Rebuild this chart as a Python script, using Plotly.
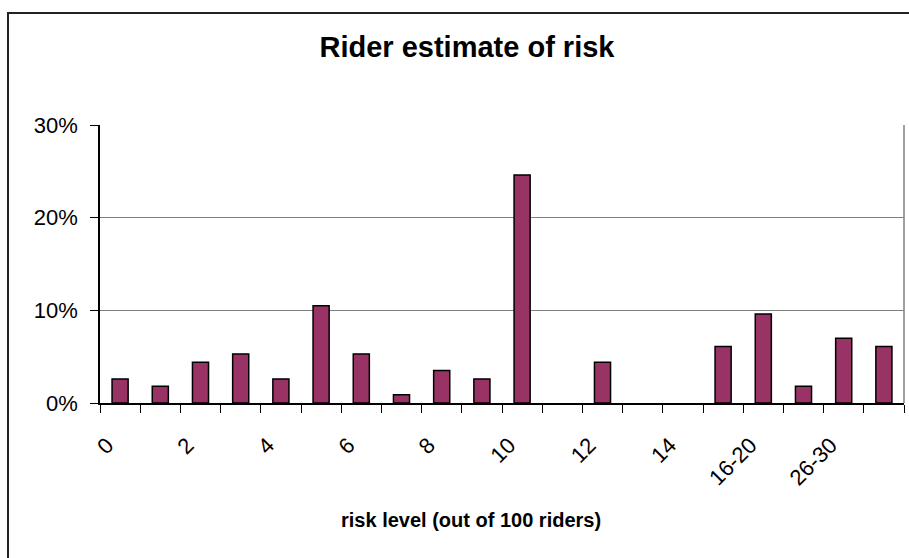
import plotly.graph_objects as go

# Share of riders choosing each risk level (out of 100 riders)
categories = ["0", "1", "2", "3", "4", "5", "6", "7", "8", "9", "10",
              "11", "12", "13", "14", "15", "16-20", "21-25", "26-30", "31+"]
shares = [0.026, 0.018, 0.044, 0.053, 0.026, 0.105, 0.053, 0.009, 0.035, 0.026,
          0.246, 0.0, 0.044, 0.0, 0.0, 0.061, 0.096, 0.018, 0.070, 0.061]
# only every other category gets a printed label
tick_text = [c if i % 2 == 0 else "" for i, c in enumerate(categories)]
y_ticks = [0, 0.1, 0.2, 0.3]

W, H = 909, 558
ML, MR, MT, MB = 100, 5, 125, 155
PW, PH = W - ML - MR, H - MT - MB

FONT = "Arial, Liberation Sans, sans-serif"

# empty categories get no outline so nothing shows on the baseline
outline_w = [1.5 if v > 0 else 0 for v in shares]

fig = go.Figure(go.Bar(
    x=categories, y=shares,
    marker=dict(color="#993366", line=dict(color="#000000", width=outline_w)),
))

fig.update_layout(
    width=W, height=H,
    margin=dict(l=ML, r=MR, t=MT, b=MB),
    paper_bgcolor="white", plot_bgcolor="white",
    bargap=0.6, showlegend=False,
    font=dict(family=FONT, color="black"),
    title=dict(text="<b>Rider estimate of risk</b>", font=dict(size=29, family=FONT),
               x=(467 - ML) / PW, xref="paper", xanchor="center",
               y=1 - 47 / H, yref="container", yanchor="middle"),
)

fig.update_xaxes(
    type="category", tickmode="array", tickvals=categories, ticktext=tick_text,
    tickson="boundaries", ticks="outside", ticklen=8, tickcolor="black", tickwidth=1,
    tickangle=-45, tickfont=dict(size=22, family=FONT),
    ticklabelstandoff=19, ticklabelshift=-13,
    showline=True, linecolor="black", linewidth=1.5,
    showgrid=False, range=[-0.5, len(categories) - 0.5],
)
fig.update_yaxes(
    range=[0, 0.3], tickvals=y_ticks, tickformat=".0%",
    ticks="outside", ticklen=8, tickcolor="black", tickwidth=1,
    tickfont=dict(size=22, family=FONT), ticklabelstandoff=8,
    showline=True, linecolor="black", linewidth=1.5,
    showgrid=True, gridcolor="#808080", gridwidth=1, zeroline=False,
)

# gray plot-area edge on the right
fig.add_shape(type="line", xref="x domain", yref="y domain", x0=1, x1=1, y0=0, y1=1,
              line=dict(color="#808080", width=1.5))
# outer chart frame
fig.add_shape(type="rect", xref="paper", yref="paper",
              x0=(8 - ML) / PW, x1=(W + 20 - ML) / PW,
              y0=-(H + 20 - (H - MB)) / PH, y1=((H - MB) - 13) / PH,
              line=dict(color="#222222", width=2), layer="below")

fig.add_annotation(text="<b>risk level (out of 100 riders)</b>", showarrow=False,
                   xref="paper", yref="paper", x=(471 - ML) / PW, y=((H - MB) - 520) / PH,
                   xanchor="center", yanchor="middle", font=dict(size=20, family=FONT))

fig.write_html("out.html")
